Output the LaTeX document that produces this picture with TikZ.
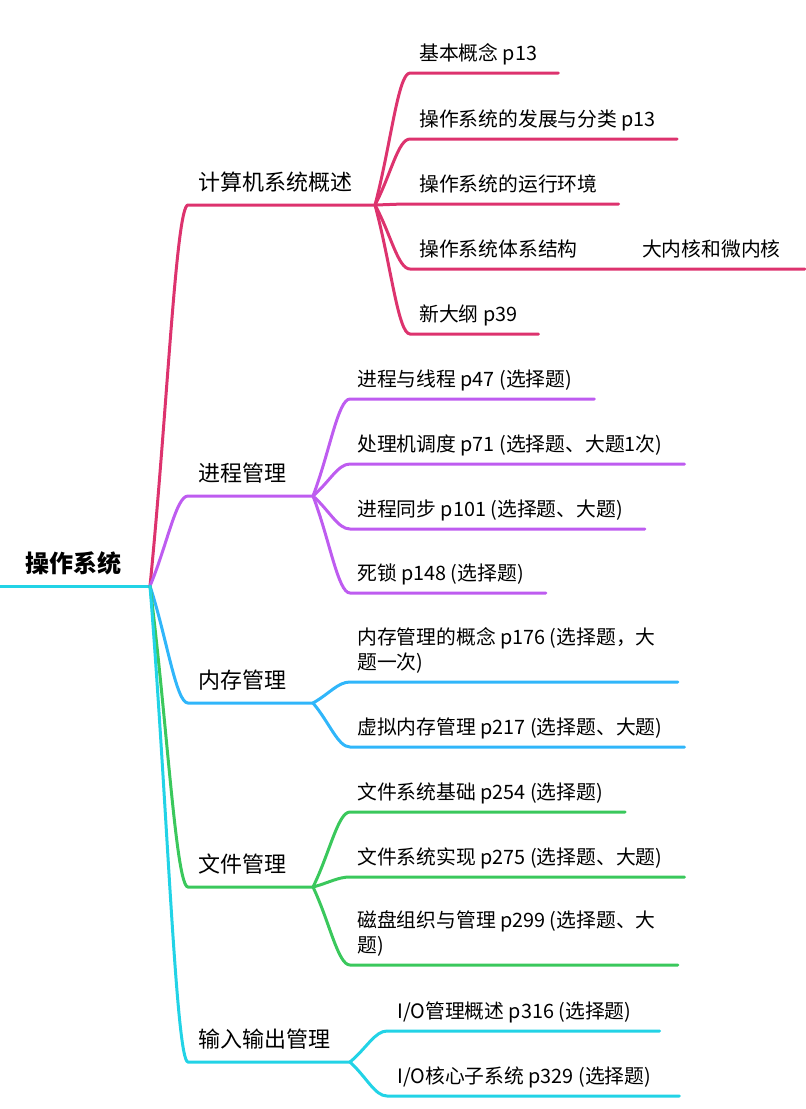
\documentclass[tikz,border=0pt]{standalone}
\usepackage{fontspec}
\setmainfont{Noto Sans CJK SC}
\usetikzlibrary{positioning, calc}
\definecolor{rootcyan}{RGB}{34, 211, 230}
\definecolor{syspink}{RGB}{221, 51, 110}
\definecolor{procpurple}{RGB}{190, 92, 240}
\definecolor{memblue}{RGB}{48, 182, 250}
\definecolor{filegreen}{RGB}{58, 200, 92}

\begin{document}
\begin{tikzpicture}[
    x=1pt, y=-1pt,
    rootnode/.style={font=\fontsize{24}{28}\selectfont\bfseries, inner sep=0pt, text depth=5pt},
    topic/.style={font=\fontsize{22}{26}\selectfont, inner sep=0pt, text depth=5pt},
    leaf/.style={font=\fontsize{19.8}{25}\selectfont, inner sep=0pt, text depth=5pt, align=left},
    wire/.style={line width=3pt, line cap=round},
    elbow/.style={wire, to path={.. controls ($(\tikztostart)!0.45!(\tikztotarget)$) and ($(\tikztotarget)+(-12,0)$) .. (\tikztotarget)}},
]
    \useasboundingbox (0,0) rectangle (806,1109);

    % Root
    \coordinate (osl) at (0,586);
    \coordinate (hub) at (150,586);
    \node[rootnode, above right=8.5pt and 25pt of osl] (os) {操作系统};

    % Main branches
    \coordinate (c1) at (188,205);  \coordinate (c1b) at (375,205);
    \coordinate (c2) at (188,496);  \coordinate (c2b) at (313,496);
    \coordinate (c3) at (188,703);  \coordinate (c3b) at (313,703);
    \coordinate (c4) at (188,887);  \coordinate (c4b) at (313,887);
    \coordinate (c5) at (188,1062); \coordinate (c5b) at (350,1062);
    \node[topic, above right=9pt and 10pt of c1] (c1t) {计算机系统概述};
    \node[topic, above right=9pt and 10pt of c2] (c2t) {进程管理};
    \node[topic, above right=9pt and 10pt of c3] (c3t) {内存管理};
    \node[topic, above right=9pt and 10pt of c4] (c4t) {文件管理};
    \node[topic, above right=9pt and 10pt of c5] (c5t) {输入输出管理};

    % Leaves of c1
    \coordinate (k11) at (410,73);
    \coordinate (k12) at (410,139);
    \coordinate (k13) at (410,204);
    \coordinate (k14) at (410,269);
    \coordinate (k15) at (410,334);
    \node[leaf, above right=7.5pt and 9pt of k11] (k11t) {基本概念 p13};
    \node[leaf, above right=7.5pt and 9pt of k12] (k12t) {操作系统的发展与分类 p13};
    \node[leaf, above right=7.5pt and 9pt of k13] (k13t) {操作系统的运行环境};
    \node[leaf, above right=7.5pt and 9pt of k14] (k14t) {操作系统体系结构};
    \node[leaf, above right=7.5pt and 9pt of k15] (k15t) {新大纲 p39};
    \node[leaf, right=64pt of k14t.south east, anchor=south west] (k141t) {大内核和微内核};

    % Leaves of c2
    \coordinate (k21) at (350,399);
    \coordinate (k22) at (350,464);
    \coordinate (k23) at (350,529);
    \coordinate (k24) at (350,593);
    \node[leaf, above right=7.5pt and 7pt of k21] (k21t) {进程与线程 p47 (选择题)};
    \node[leaf, above right=7.5pt and 7pt of k22] (k22t) {处理机调度 p71 (选择题、大题1次)};
    \node[leaf, above right=7.5pt and 7pt of k23] (k23t) {进程同步 p101 (选择题、大题)};
    \node[leaf, above right=7.5pt and 7pt of k24] (k24t) {死锁 p148 (选择题)};

    % Leaves of c3
    \coordinate (k31) at (350,682);
    \coordinate (k32) at (350,747);
    \node[leaf, above right=7.5pt and 7pt of k31] (k31t) {内存管理的概念 p176 (选择题，大\\题一次)};
    \node[leaf, above right=7.5pt and 7pt of k32] (k32t) {虚拟内存管理 p217 (选择题、大题)};

    % Leaves of c4
    \coordinate (k41) at (350,812);
    \coordinate (k42) at (350,877);
    \coordinate (k43) at (350,965);
    \node[leaf, above right=7.5pt and 7pt of k41] (k41t) {文件系统基础 p254 (选择题)};
    \node[leaf, above right=7.5pt and 7pt of k42] (k42t) {文件系统实现 p275 (选择题、大题)};
    \node[leaf, above right=7.5pt and 7pt of k43] (k43t) {磁盘组织与管理 p299 (选择题、大\\题)};

    % Leaves of c5
    \coordinate (k51) at (387,1031);
    \coordinate (k52) at (387,1096);
    \node[leaf, above right=7.5pt and 10pt of k51] (k51t) {I/O管理概述 p316 (选择题)};
    \node[leaf, above right=7.5pt and 10pt of k52] (k52t) {I/O核心子系统 p329 (选择题)};

    % Connectors
    \draw[wire, rootcyan] (osl) -- (hub);
    \draw[syspink, elbow] (hub) to (c1) -- (c1b);
    \draw[procpurple, elbow] (hub) to (c2) -- (c2b);
    \draw[memblue, elbow] (hub) to (c3) -- (c3b);
    \draw[filegreen, elbow] (hub) to (c4) -- (c4b);
    \draw[rootcyan, elbow] (hub) to (c5) -- (c5b);

    \foreach \k in {k11, k12, k13, k15}
      \draw[syspink, elbow] (c1b) to (\k) -- ($(\k -| \k t.east)+(21,0)$);
    \draw[syspink, elbow] (c1b) to (k14) -- ($(k14 -| k141t.west)+(-20,0)$) -- ($(k14 -| k141t.east)+(24,0)$);
    \foreach \k in {k21, k22, k23, k24}
      \draw[procpurple, elbow] (c2b) to (\k) -- ($(\k -| \k t.east)+(22,0)$);
    \foreach \k in {k31, k32}
      \draw[memblue, elbow] (c3b) to (\k) -- ($(\k -| \k t.east)+(22,0)$);
    \foreach \k in {k41, k42, k43}
      \draw[filegreen, elbow] (c4b) to (\k) -- ($(\k -| \k t.east)+(22,0)$);
    \foreach \k in {k51, k52}
      \draw[rootcyan, elbow] (c5b) to (\k) -- ($(\k -| \k t.east)+(28,0)$);
\end{tikzpicture}
\end{document}
